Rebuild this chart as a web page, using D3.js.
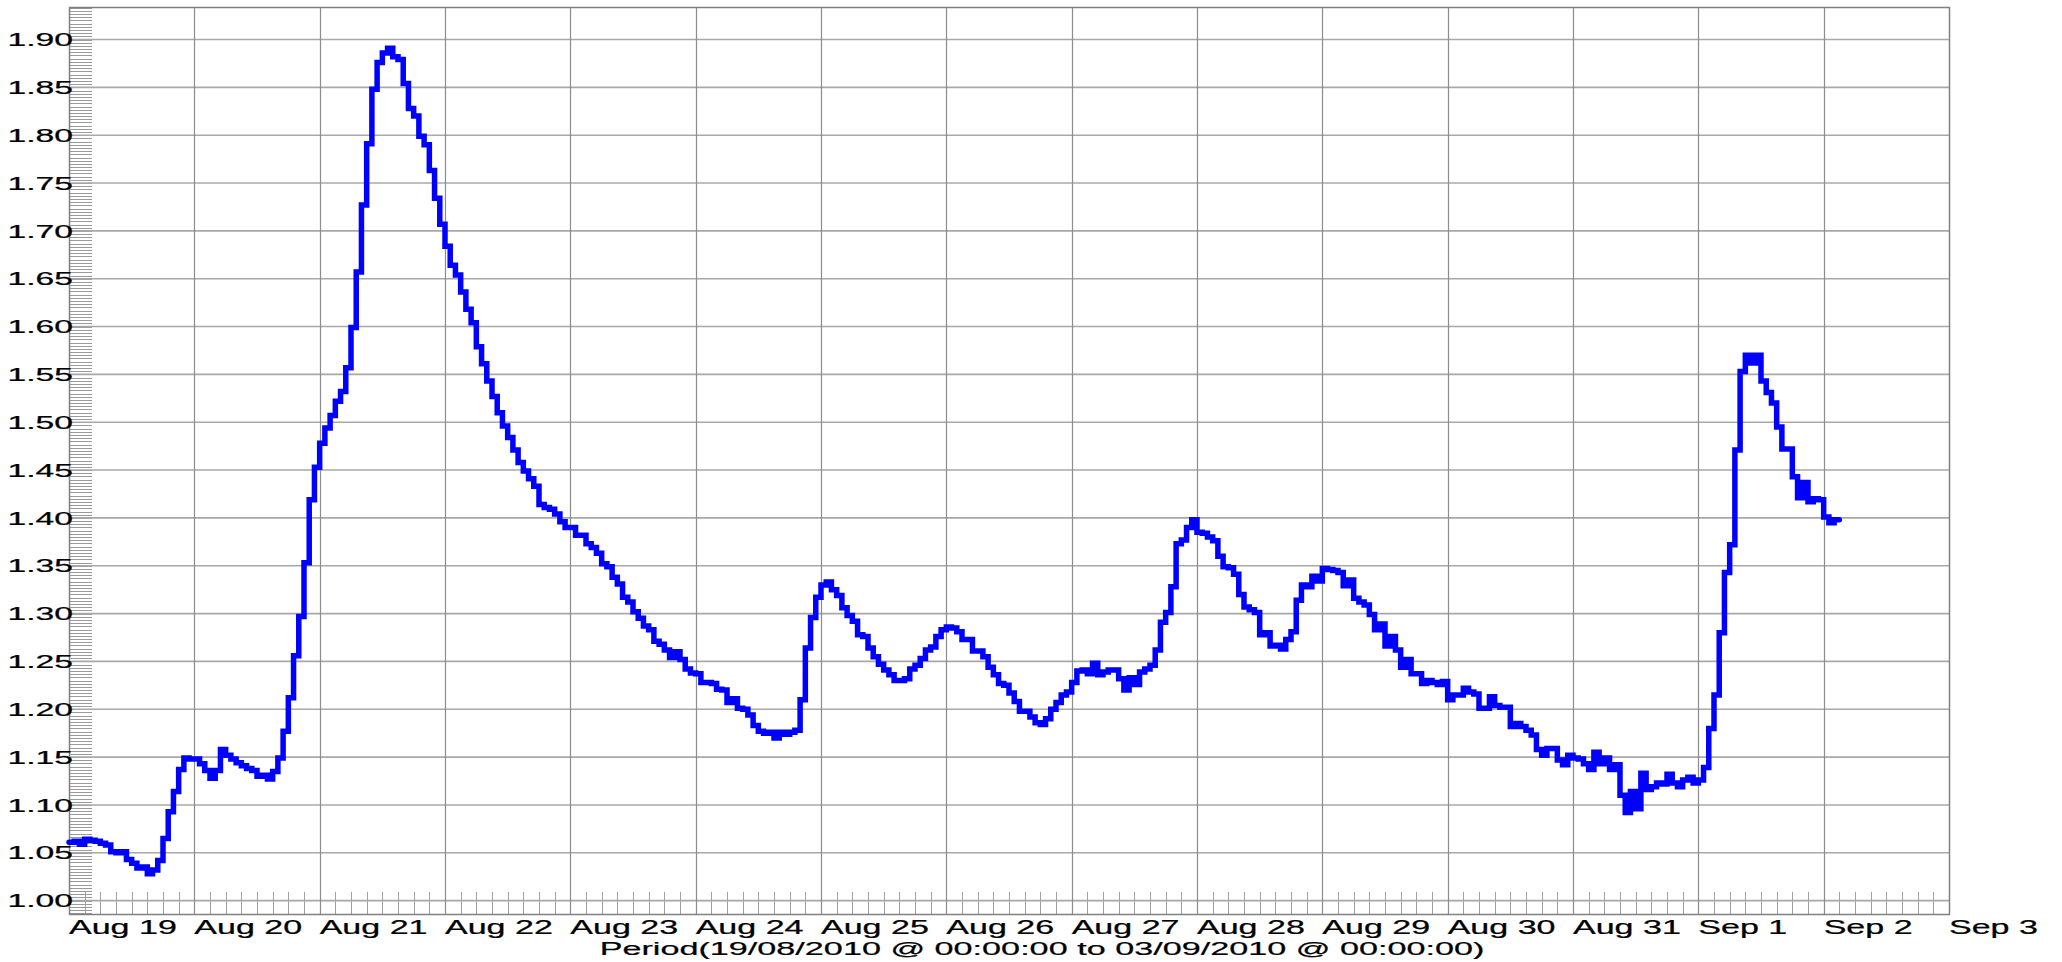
<!DOCTYPE html>
<html><head><meta charset="utf-8">
<script src="https://cdn.jsdelivr.net/npm/d3@7"></script>
<style>html,body{margin:0;padding:0;background:#fff;overflow:hidden}</style>
</head><body><svg id="c" width="2062" height="962"></svg>
<script>
// ---------- data (hourly readings, starting 19 Aug 2010 00:00) ----------
const startTime = "2010-08-19T00:00:00Z";
const endTime = "2010-09-03T00:00:00Z";
const aug19 = [1.061,1.062,1.059,1.064,1.063,1.062,1.060,1.058,1.051,1.050,1.051,1.043,1.039,1.034,1.035,1.028,1.032,1.042,1.065,1.093,1.114,1.137,1.149,1.148];
const aug20 = [1.148,1.143,1.136,1.128,1.136,1.158,1.152,1.148,1.144,1.141,1.138,1.136,1.130,1.131,1.127,1.135,1.149,1.177,1.212,1.256,1.297,1.353,1.419,1.453];
const aug21 = [1.478,1.494,1.507,1.522,1.532,1.557,1.599,1.657,1.727,1.791,1.848,1.876,1.886,1.891,1.882,1.879,1.854,1.828,1.820,1.799,1.790,1.763,1.734,1.707];
const aug22 = [1.684,1.664,1.654,1.636,1.618,1.604,1.579,1.561,1.543,1.527,1.510,1.496,1.484,1.471,1.458,1.449,1.441,1.433,1.414,1.411,1.409,1.404,1.396,1.390];
const aug23 = [1.390,1.382,1.382,1.373,1.369,1.363,1.352,1.349,1.338,1.331,1.317,1.312,1.302,1.295,1.287,1.283,1.271,1.268,1.262,1.254,1.260,1.252,1.242,1.238];
const aug24 = [1.237,1.228,1.228,1.227,1.221,1.220,1.207,1.211,1.201,1.200,1.194,1.183,1.177,1.175,1.176,1.170,1.176,1.174,1.176,1.178,1.210,1.264,1.296,1.317];
const aug25 = [1.330,1.333,1.325,1.319,1.306,1.298,1.292,1.278,1.276,1.264,1.255,1.247,1.241,1.236,1.230,1.230,1.232,1.242,1.246,1.253,1.262,1.265,1.276,1.283];
const aug26 = [1.286,1.285,1.281,1.273,1.273,1.261,1.261,1.255,1.244,1.236,1.227,1.225,1.217,1.208,1.198,1.198,1.192,1.186,1.184,1.190,1.200,1.207,1.215,1.218];
const aug27 = [1.228,1.240,1.241,1.237,1.248,1.236,1.239,1.241,1.241,1.232,1.220,1.233,1.226,1.239,1.242,1.246,1.262,1.291,1.301,1.328,1.373,1.377,1.390,1.398];
const aug28 = [1.385,1.384,1.380,1.376,1.360,1.349,1.348,1.341,1.320,1.307,1.304,1.301,1.278,1.280,1.266,1.267,1.263,1.273,1.281,1.314,1.330,1.328,1.339,1.334];
const aug29 = [1.347,1.346,1.345,1.343,1.329,1.335,1.316,1.312,1.309,1.299,1.283,1.289,1.266,1.276,1.262,1.244,1.252,1.237,1.237,1.227,1.230,1.228,1.226,1.229];
const aug30 = [1.210,1.215,1.215,1.222,1.218,1.216,1.201,1.201,1.213,1.204,1.202,1.202,1.182,1.185,1.182,1.178,1.173,1.158,1.152,1.159,1.159,1.147,1.142,1.152];
const aug31 = [1.149,1.148,1.143,1.137,1.155,1.143,1.149,1.137,1.142,1.110,1.092,1.114,1.096,1.133,1.116,1.119,1.123,1.122,1.132,1.123,1.119,1.126,1.129,1.123];
const sep01 = [1.126,1.139,1.180,1.215,1.280,1.343,1.372,1.471,1.553,1.570,1.562,1.570,1.543,1.531,1.520,1.495,1.472,1.472,1.443,1.421,1.437,1.417,1.420,1.419];
const sep02 = [1.401,1.395,1.398];

const yTickValues = [1.00,1.05,1.10,1.15,1.20,1.25,1.30,1.35,1.40,1.45,1.50,1.55,1.60,1.65,1.70,1.75,1.80,1.85,1.90];
const dayLabels = ["Aug 19","Aug 20","Aug 21","Aug 22","Aug 23","Aug 24","Aug 25","Aug 26","Aug 27","Aug 28","Aug 29","Aug 30","Aug 31","Sep 1","Sep 2","Sep 3"];
const xTitle = "Period(19/08/2010 @ 00:00:00 to 03/09/2010 @ 00:00:00)";
const yDomain = [0.986, 1.934];
const yMinorPerMajor = 15;

// ---------- build series ----------
const hourly = [].concat(aug19,aug20,aug21,aug22,aug23,aug24,aug25,aug26,aug27,aug28,aug29,aug30,aug31,sep01,sep02);
const t0 = new Date(startTime);
const series = hourly.map((v,i)=>({t:d3.utcHour.offset(t0,i), v}));
series.push({t:d3.utcHour.offset(t0,hourly.length), v:hourly[hourly.length-1]});

// ---------- layout ----------
const L=69, R=1949, T=7, B=914;
const svg = d3.select("#c");
svg.append("rect").attr("width",2062).attr("height",962).attr("fill","#fff");

const x = d3.scaleUtc().domain([new Date(startTime), new Date(endTime)]).range([L,R]);
const y = d3.scaleLinear().domain(yDomain).range([B,T]);

const font = "'Liberation Sans', Arial, Helvetica, sans-serif";

// minor y ticks
const step = 0.05/yMinorPerMajor;
const yMinor = [];
for (let k = Math.ceil((yDomain[0]-1)/step); 1 + k*step < yDomain[1]; k++) yMinor.push(1 + k*step);
svg.append("g").selectAll("line").data(yMinor).join("line")
  .attr("x1",L).attr("x2",L+23)
  .attr("y1",d=>Math.round(y(d))+0.5).attr("y2",d=>Math.round(y(d))+0.5)
  .attr("stroke","#9a9a9a").attr("stroke-width",1);

// minor x ticks every 3 hours
const xMinor = d3.utcHour.every(3).range(new Date(startTime), new Date(endTime));
svg.append("g").selectAll("line").data(xMinor).join("line")
  .attr("x1",d=>Math.round(x(d))+0.5).attr("x2",d=>Math.round(x(d))+0.5)
  .attr("y1",B).attr("y2",B-22)
  .attr("stroke","#a0a0a0").attr("stroke-width",1);

// horizontal grid
svg.append("g").selectAll("line").data(yTickValues).join("line")
  .attr("x1",L).attr("x2",R)
  .attr("y1",d=>y(d)).attr("y2",d=>y(d))
  .attr("stroke","#a8a8a8").attr("stroke-width",1.6);

// vertical grid (daily)
const days = d3.utcDay.range(new Date(startTime), d3.utcDay.offset(new Date(endTime),1));
svg.append("g").selectAll("line").data(days.slice(1,-1)).join("line")
  .attr("x1",d=>Math.round(x(d))+0.5).attr("x2",d=>Math.round(x(d))+0.5)
  .attr("y1",T).attr("y2",B)
  .attr("stroke","#8c8c8c").attr("stroke-width",1.2);

// frame
svg.append("rect").attr("x",L+0.5).attr("y",T+0.5).attr("width",R-L).attr("height",B-T)
  .attr("fill","none").attr("stroke","#808080").attr("stroke-width",1.5);

// data line
const line = d3.line().x(d=>x(d.t)).y(d=>y(d.v)).curve(d3.curveStepAfter);
svg.append("path").datum(series).attr("d",line)
  .attr("fill","none").attr("stroke","#0000ff").attr("stroke-width",5.5)
  .attr("stroke-linejoin","miter").attr("stroke-linecap","round");

// y labels
svg.append("g").selectAll("text").data(yTickValues).join("text")
  .attr("transform",d=>`translate(73,${y(d)+6.7}) scale(1.82,1)`)
  .attr("text-anchor","end").attr("font-family",font).attr("font-size",18.5)
  .attr("fill","#000").attr("stroke","#000").attr("stroke-width",0.25)
  .text(d=>d.toFixed(2));

// x labels
svg.append("g").selectAll("text").data(days).join("text")
  .attr("transform",d=>`translate(${x(d)},934) scale(1.66,1)`)
  .attr("text-anchor","start").attr("font-family",font).attr("font-size",20.5)
  .attr("fill","#000").attr("stroke","#000").attr("stroke-width",0.25)
  .text((d,i)=>dayLabels[i]);

// x title
svg.append("text")
  .attr("transform",`translate(1042,955) scale(1.9,1)`)
  .attr("text-anchor","middle").attr("font-family",font).attr("font-size",18)
  .attr("fill","#000").attr("stroke","#000").attr("stroke-width",0.2)
  .text(xTitle);
</script></body></html>
